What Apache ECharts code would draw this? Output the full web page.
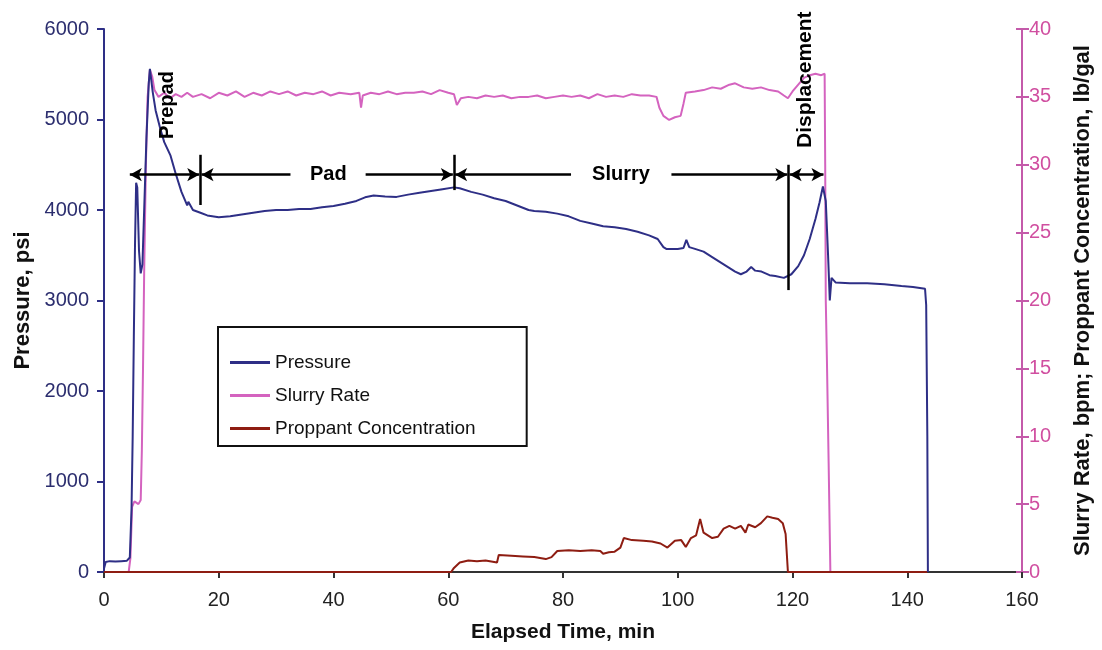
<!DOCTYPE html>
<html>
<head>
<meta charset="utf-8">
<script src="https://cdn.jsdelivr.net/npm/echarts@6/dist/echarts.min.js"></script>
<style>
  html, body { margin: 0; padding: 0; background: #fff; }
  #chart { width: 1102px; height: 650px; }
</style>
</head>
<body>
<div id="chart"></div>
<script>
// elapsed time (min) / pressure (psi)
const pressure = [
  [0, 40], [0.3, 110], [1, 120], [2, 115], [3, 120], [4, 125], [4.5, 160],
  [4.8, 700], [5.0, 1500], [5.2, 2600], [5.4, 3600], [5.6, 4300], [5.8, 4250],
  [6.1, 3550], [6.4, 3300], [6.7, 3400], [7.0, 4000], [7.4, 4800], [7.8, 5400],
  [8.0, 5560], [8.5, 5300], [9, 5100], [9.8, 4900], [10.5, 4750], [11.6, 4600],
  [12.5, 4400], [13.5, 4200], [14.5, 4050], [14.7, 4090], [15.5, 4000], [16.8, 3970],
  [18, 3940], [20, 3920], [22, 3930], [24, 3950], [26, 3970], [28, 3990], [30, 4000],
  [32, 4000], [34, 4010], [36, 4010], [38, 4030], [40, 4045], [42, 4070], [44, 4100],
  [45.5, 4140], [47, 4160], [49, 4150], [51, 4145], [53, 4170], [55, 4190], [57, 4210],
  [59, 4230], [61, 4250], [62, 4240], [64, 4200], [66, 4170], [68, 4130], [70, 4100],
  [72, 4050], [74, 4000], [75, 3990], [77, 3980], [79, 3960], [81, 3930], [83, 3880],
  [85, 3850], [87, 3820], [89, 3810], [91, 3790], [93, 3760], [95, 3720], [96.5, 3680],
  [97.5, 3590], [98, 3570], [100, 3570], [101, 3580], [101.5, 3670], [102, 3590],
  [103, 3570], [104.5, 3540], [106, 3480], [108, 3400], [110, 3320], [111, 3290],
  [112, 3320], [112.8, 3370], [113.5, 3330], [114.6, 3320], [116, 3280], [117, 3270],
  [118.5, 3250], [119.8, 3290], [121, 3380], [122, 3500], [123, 3680], [124, 3900],
  [124.7, 4080], [125.3, 4260], [125.8, 4100], [126.2, 3500], [126.5, 3000], [126.8, 3250],
  [127.5, 3200], [130, 3190], [133, 3190], [136, 3180], [139, 3160], [141, 3150],
  [143.1, 3130], [143.3, 2950], [143.5, 1500], [143.6, 0]
]

// elapsed time (min) / slurry rate (bpm)
const slurryRate = [
  [0, 0], [4.3, 0], [4.6, 1], [4.9, 4.8], [5.3, 5.2], [6, 5.0], [6.4, 5.3], [6.6, 9],
  [6.8, 15], [7.0, 22], [7.3, 30], [7.6, 35], [8.0, 37], [8.4, 36.5], [8.8, 35.5],
  [9.5, 35.0], [10.5, 35.3], [11.5, 34.9], [12.5, 35.2], [13.5, 35.0], [14.5, 35.3],
  [15.5, 35.0], [17, 35.2], [18.5, 34.9], [20, 35.3], [21.5, 35.1], [23, 35.4],
  [24.5, 35.0], [26, 35.3], [27.5, 35.1], [29, 35.4], [30.5, 35.2], [32, 35.4],
  [33.5, 35.1], [35, 35.3], [36.5, 35.2], [38, 35.4], [39.5, 35.1], [41, 35.3],
  [43, 35.2], [44.5, 35.3], [44.8, 34.2], [45.1, 35.1], [46.5, 35.3], [48, 35.2],
  [49.5, 35.4], [51, 35.2], [52.5, 35.3], [54, 35.3], [55.5, 35.4], [57, 35.2],
  [58.5, 35.5], [60, 35.3], [61, 35.2], [61.5, 34.4], [62.2, 34.9], [63.5, 35.0],
  [65, 34.9], [66.5, 35.1], [68, 35.0], [69.5, 35.1], [71, 34.9], [72.5, 35.0],
  [74, 35.0], [75.5, 35.1], [77, 34.9], [78.5, 35.0], [80, 35.1], [81.5, 35.0],
  [83, 35.1], [84.5, 34.9], [86, 35.2], [87.5, 35.0], [89, 35.1], [90.5, 35.0],
  [92, 35.2], [93.5, 35.1], [95, 35.1], [96.3, 35.0], [96.8, 34.2], [97.5, 33.6],
  [98.5, 33.3], [99.5, 33.5], [100.5, 33.6], [101, 34.5], [101.4, 35.3], [103, 35.4],
  [104.5, 35.5], [106, 35.7], [107.5, 35.6], [109, 35.9], [110, 36.0], [111.5, 35.7],
  [113, 35.6], [114.5, 35.7], [116, 35.5], [117.5, 35.4], [118.5, 35.1], [119.2, 34.9],
  [120, 35.4], [121, 35.9], [122, 36.4], [123, 36.6], [124, 36.7], [125, 36.6],
  [125.6, 36.7], [125.7, 30], [125.8, 20], [126.0, 15.6], [126.3, 8], [126.6, 0]
]

// elapsed time (min) / proppant concentration (lb/gal)
const proppant = [
  [0, 0], [60.5, 0], [61, 0.3], [62, 0.7], [63.5, 0.85], [65, 0.8], [66.5, 0.85],
  [68.5, 0.7], [68.8, 1.25], [71, 1.2], [73, 1.15], [75, 1.1], [77, 0.95], [78, 1.1],
  [79, 1.55], [81, 1.6], [83, 1.55], [85, 1.6], [86.5, 1.55], [87, 1.35], [88, 1.45],
  [89, 1.5], [90, 1.8], [90.6, 2.5], [92, 2.35], [94, 2.3], [95.5, 2.25], [97, 2.1],
  [98.2, 1.8], [99.5, 2.3], [100.6, 2.35], [101.4, 1.85], [102.3, 2.5], [103.2, 2.7],
  [103.9, 3.9], [104.5, 2.9], [106, 2.5], [107, 2.6], [108, 3.2], [109, 3.4], [110, 3.2],
  [111, 3.4], [111.8, 2.9], [112.3, 3.5], [113.5, 3.3], [114.5, 3.6], [115.6, 4.1],
  [116.5, 4.0], [117.5, 3.9], [118.3, 3.6], [118.8, 2.8], [119.2, 0], [143.5, 0]
]

// stage markers (time, pressure-axis value)
const arrowY = 4390
const stageBars = [[16.8, 4610, 4055], [61.0, 4610, 4220], [119.3, 4500, 3115]]
// [from, to, arrow at start, arrow at end]
const stageArrows = [
  [4.5, 16.6, true, true], [17.0, 32.5, true, false], [45.6, 60.8, false, true],
  [61.2, 81.4, true, false], [98.9, 119.1, false, true], [119.5, 125.4, true, true]
]
const stageTexts = [
  { name: 'Pad', t: 39.1, p: 4390, rotate: 0 },
  { name: 'Slurry', t: 90.1, p: 4390, rotate: 0 },
  { name: 'Prepad', t: 11.0, p: 5160, rotate: 90 },
  { name: 'Displacement', t: 122.3, p: 5440, rotate: 90 }
]

const font = 'Liberation Sans'
const colorPressure = '#2e2f86'
const colorRate = '#d463bf'
const colorProppant = '#8e1d12'
const colorRightAxis = '#c45aaa'

const markData = []
stageBars.forEach(b => {
  markData.push([{ coord: [b[0], b[1]], symbol: 'none' }, { coord: [b[0], b[2]], symbol: 'none' }])
})
stageArrows.forEach(a => {
  markData.push([
    { coord: [a[0], arrowY], symbol: a[2] ? 'arrow' : 'none' },
    { coord: [a[1], arrowY], symbol: a[3] ? 'arrow' : 'none' }
  ])
})

const nameStyle = { fontFamily: font, fontSize: 21, fontWeight: 'bold', color: '#111' }
const sideNameStyle = { fontFamily: font, fontSize: 22, fontWeight: 'bold', color: '#111' }

const chart = echarts.init(document.getElementById('chart'))
chart.setOption({
  animation: false,
  backgroundColor: '#fff',
  textStyle: { fontFamily: font },
  grid: { left: 104, right: 77, top: 29, bottom: 78 },
  legend: {
    data: ['Pressure', 'Slurry Rate', 'Proppant Concentration'],
    orient: 'vertical',
    left: 218,
    top: 327,
    padding: [26, 51, 8, 12],
    icon: 'rect',
    itemWidth: 40,
    itemHeight: 3,
    itemGap: 14,
    borderColor: '#111',
    borderWidth: 2,
    textStyle: { fontFamily: font, fontSize: 19, color: '#111' }
  },
  xAxis: {
    type: 'value',
    min: 0,
    max: 160,
    interval: 20,
    name: 'Elapsed Time, min',
    nameLocation: 'middle',
    nameGap: 50,
    nameTextStyle: nameStyle,
    axisLine: { lineStyle: { color: '#333', width: 2 } },
    axisTick: { length: 6, lineStyle: { color: '#333', width: 2 } },
    axisLabel: { fontSize: 20, color: '#222', margin: 18 },
    splitLine: { show: false }
  },
  yAxis: [{
    type: 'value',
    min: 0,
    max: 6000,
    interval: 1000,
    name: 'Pressure, psi',
    nameLocation: 'middle',
    nameGap: 60,
    nameTextStyle: sideNameStyle,
    axisLine: { show: true, lineStyle: { color: colorPressure, width: 2 } },
    axisTick: { show: true, length: 7, lineStyle: { color: colorPressure, width: 2 } },
    axisLabel: { fontSize: 20, color: '#2b2d6e', margin: 15, formatter: v => String(v) },
    splitLine: { show: false }
  }, {
    type: 'value',
    position: 'right',
    min: 0,
    max: 40,
    interval: 5,
    name: 'Slurry Rate, bpm; Proppant Concentration, lb/gal',
    nameLocation: 'middle',
    nameGap: 50,
    nameRotate: 90,
    nameTextStyle: sideNameStyle,
    axisLine: { show: true, lineStyle: { color: colorRightAxis, width: 2 } },
    axisTick: { show: true, length: 7, lineStyle: { color: colorRightAxis, width: 2 } },
    axisLabel: { fontSize: 20, color: '#d04fa0', margin: 7 },
    splitLine: { show: false }
  }, {
    // inner half of the crossing ticks on the right axis
    type: 'value',
    position: 'right',
    min: 0,
    max: 40,
    interval: 5,
    axisLine: { show: false },
    axisTick: { show: true, inside: true, length: 6, lineStyle: { color: colorRightAxis, width: 2 } },
    axisLabel: { show: false },
    splitLine: { show: false }
  }],
  series: [{
    name: 'Slurry Rate',
    type: 'line',
    yAxisIndex: 1,
    symbol: 'none',
    z: 2,
    lineStyle: { color: colorRate, width: 2 },
    itemStyle: { color: colorRate },
    data: slurryRate
  }, {
    name: 'Proppant Concentration',
    type: 'line',
    yAxisIndex: 1,
    symbol: 'none',
    z: 3,
    lineStyle: { color: colorProppant, width: 2 },
    itemStyle: { color: colorProppant },
    data: proppant
  }, {
    name: 'Pressure',
    type: 'line',
    yAxisIndex: 0,
    symbol: 'none',
    z: 4,
    lineStyle: { color: colorPressure, width: 2 },
    itemStyle: { color: colorPressure },
    data: pressure,
    markLine: {
      silent: true,
      symbolSize: [10, 12],
      label: { show: false },
      lineStyle: { color: '#000', width: 2.5, type: 'solid' },
      emphasis: { disabled: true },
      data: markData
    }
  }, {
    name: 'stages',
    type: 'scatter',
    yAxisIndex: 0,
    symbolSize: 0,
    silent: true,
    z: 5,
    itemStyle: { opacity: 1 },
    data: stageTexts.map(s => ({
      value: [s.t, s.p],
      label: {
        show: true,
        position: 'inside',
        formatter: s.name,
        rotate: s.rotate,
        fontFamily: font,
        fontSize: s.name === 'Displacement' ? 21 : 20,
        fontWeight: 'bold',
        color: '#000',
        opacity: 1
      }
    }))
  }]
})
</script>
</body>
</html>
